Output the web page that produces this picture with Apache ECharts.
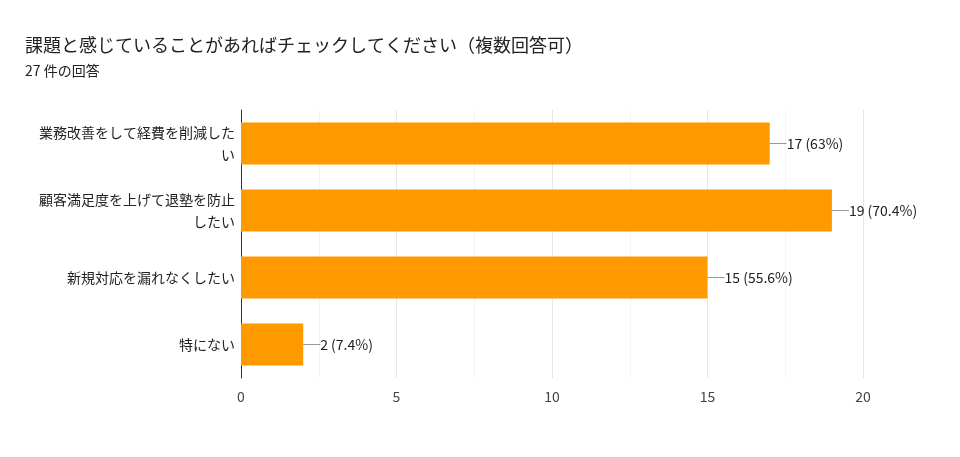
<!DOCTYPE html>
<html>
<head>
<meta charset="utf-8">
<script src="https://cdn.jsdelivr.net/npm/echarts@6/dist/echarts.min.js"></script>
<style>html,body{margin:0;background:#fff}#chart{width:960px;height:457px}</style>
</head>
<body>
<div id="chart"></div>
<script>
// categories top to bottom
const categories = ['業務改善をして経費を削減した\nい', '顧客満足度を上げて退塾を防止\nしたい', '新規対応を漏れなくしたい', '特にない'];
const counts = [17, 19, 15, 2];
const percents = ['63%', '70.4%', '55.6%', '7.4%'];
const xTicks = [0, 5, 10, 15, 20];

const chart = echarts.init(document.getElementById('chart'));
const font = '"Noto Sans CJK JP", Roboto, sans-serif';

chart.setOption({
  textStyle: { fontFamily: font },
  title: {
    text: '課題と感じていることがあればチェックしてください（複数回答可）',
    subtext: '27 件の回答',
    left: 20, top: 31,
    textStyle: { fontSize: 18, fontWeight: 'normal', color: '#212121', fontFamily: font },
    subtextStyle: { fontSize: 14, color: '#212121', fontFamily: font },
    itemGap: 10
  },
  grid: { left: 241, right: 97, top: 110, bottom: 79 },
  xAxis: {
    type: 'value', min: xTicks[0], max: xTicks[xTicks.length - 1], interval: 5,
    axisLabel: { fontSize: 14, color: '#444', margin: 12 },
    axisLine: { show: false }, axisTick: { show: false },
    splitLine: { lineStyle: { color: '#e6e6e6' } },
    minorTick: { show: false, splitNumber: 2 },
    minorSplitLine: { show: true, lineStyle: { color: '#f3f3f3' } }
  },
  yAxis: {
    type: 'category', inverse: true, data: categories,
    axisLine: { lineStyle: { color: '#333' } }, axisTick: { show: false },
    axisLabel: { fontSize: 14, color: '#222', align: 'right', lineHeight: 22, margin: 6 }
  },
  series: [{
    type: 'bar', data: counts, barWidth: 42,
    itemStyle: { color: '#ff9900' },
    label: {
      show: true, position: 'right', distance: 0,
      formatter: p => '{l|}' + p.value + ' (' + percents[p.dataIndex] + ')',
      fontSize: 14, color: '#222',
      rich: { l: { width: 17, height: 1, backgroundColor: '#999' } }
    }
  }]
});
</script>
</body>
</html>
